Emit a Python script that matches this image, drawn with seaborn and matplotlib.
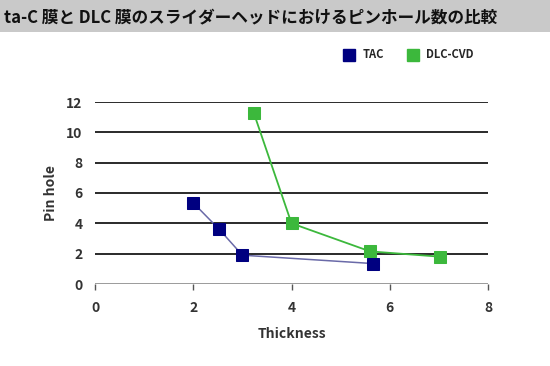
import pandas as pd
import seaborn as sns
import matplotlib.pyplot as plt
from matplotlib.lines import Line2D

# values
tac_x = [2.0, 2.53, 3.0, 5.65]
tac_y = [5.35, 3.6, 1.9, 1.35]
dlc_x = [3.23, 4.0, 5.6, 7.03]
dlc_y = [11.3, 4.0, 2.15, 1.8]
x_ticks = [0, 2, 4, 6, 8]
y_ticks = [0, 2, 4, 6, 8, 10, 12]

title = 'ta-C 膜と DLC 膜のスライダーヘッドにおけるピンホール数の比較'

tac = pd.DataFrame({'Thickness': tac_x, 'Pin hole': tac_y})
dlc = pd.DataFrame({'Thickness': dlc_x, 'Pin hole': dlc_y})

sns.set_theme(style="white")
plt.rcParams['font.family'] = ['Noto Sans CJK JP', 'DejaVu Sans']

fig = plt.figure(figsize=(5.5, 3.66), dpi=100)
fig.patch.set_facecolor('white')

# grey title banner
fig.patches.append(plt.Rectangle((0, 1 - 32 / 366), 1, 32 / 366, transform=fig.transFigure,
                                 facecolor='#c9c9c9', edgecolor='none', zorder=0))
fig.text(0.008, 1 - 17 / 366, title, fontsize=12, fontweight='bold', color='#111111',
         va='center', ha='left')

ax = fig.add_axes([95 / 550, 1 - 284 / 366, 393 / 550, 182 / 366])

for y in y_ticks[1:]:
    ax.axhline(y, color='#2a2a2a', lw=1.4, zorder=1)
ax.axhline(0, color='#8a8a8a', lw=1.2, zorder=1)

sns.lineplot(data=tac, x='Thickness', y='Pin hole', ax=ax, color='#6a6aa8', lw=1.1,
             marker='s', markersize=8, markerfacecolor='#000080', markeredgecolor='#000080',
             zorder=3)
sns.lineplot(data=dlc, x='Thickness', y='Pin hole', ax=ax, color='#3cb83c', lw=1.3,
             marker='s', markersize=8, markerfacecolor='#3cb83c', markeredgecolor='#3cb83c',
             zorder=3)

ax.set_xlim(0, 8)
ax.set_ylim(0, 12)
ax.set_xticks(x_ticks)
ax.set_yticks(y_ticks)
for s in ax.spines.values():
    s.set_visible(False)
ax.tick_params(axis='x', bottom=True, length=4, width=1, color='#555555', labelsize=10,
               pad=8, labelcolor='#333333')
ax.tick_params(axis='y', left=False, length=0, labelsize=10, pad=9, labelcolor='#333333')
for lab in ax.get_xticklabels() + ax.get_yticklabels():
    lab.set_fontweight('bold')

ax.set_xlabel('Thickness', fontsize=10, fontweight='bold', color='#333333', labelpad=9)
ax.set_ylabel('Pin hole', fontsize=10, fontweight='bold', color='#333333', labelpad=6)

handles = [Line2D([], [], ls='none', marker='s', markersize=9, color='#000080', label='TAC'),
           Line2D([], [], ls='none', marker='s', markersize=9, color='#3cb83c', label='DLC-CVD')]
fig.legend(handles=handles, loc='center left', bbox_to_anchor=(328 / 550, 1 - 55 / 366),
           ncol=2, frameon=False, handletextpad=0.2, columnspacing=1.6,
           prop={'weight': 'bold', 'size': 8})

fig.savefig('out.png', dpi=100)
